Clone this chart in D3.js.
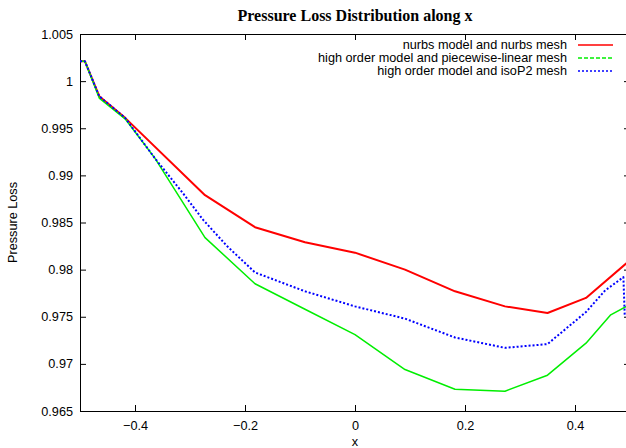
<!DOCTYPE html>
<html>
<head>
<meta charset="utf-8">
<script src="https://cdn.jsdelivr.net/npm/d3@7"></script>
<style>
  html, body { margin: 0; padding: 0; background: #fff; }
  svg { display: block; }
</style>
</head>
<body>
<script>
// 数据
const xTicks = [-0.4, -0.2, 0, 0.2, 0.4];
const yTicks = [0.965, 0.97, 0.975, 0.98, 0.985, 0.99, 0.995, 1, 1.005];

const seriesNames = [
  "nurbs model and nurbs mesh",
  "high order model and piecewise-linear mesh",
  "high order model and isoP2 mesh"
];

const nurbsX = [-0.5, -0.491, -0.465, -0.418, -0.2727, -0.1818, -0.0909, 0, 0.0909, 0.1818, 0.2727, 0.35, 0.42, 0.5];
const nurbsY = [1.0021, 1.0021, 0.9984, 0.9961, 0.9879, 0.9845, 0.9829, 0.9818, 0.9800, 0.9777, 0.9761, 0.9754, 0.9770, 0.9810];

const linearX = [-0.5, -0.491, -0.465, -0.418, -0.3636, -0.2727, -0.1818, -0.0909, 0, 0.0909, 0.1818, 0.2727, 0.35, 0.42, 0.465, 0.5];
const linearY = [1.0021, 1.0021, 0.9982, 0.9960, 0.9918, 0.9834, 0.9785, 0.9758, 0.9731, 0.9694, 0.9673, 0.9671, 0.9688, 0.9722, 0.9752, 0.9763];

const isoX = [-0.5, -0.491, -0.465, -0.418, -0.3636, -0.3127, -0.2764, -0.2327, -0.1818, -0.0909, 0, 0.0909, 0.1818, 0.2727, 0.35, 0.42, 0.455, 0.488, 0.4905];
const isoY = [1.0021, 1.0021, 0.9984, 0.9961, 0.9918, 0.9881, 0.9853, 0.9825, 0.9797, 0.9777, 0.9761, 0.9748, 0.9728, 0.9717, 0.9721, 0.9755, 0.9778, 0.9792, 0.9750];

const width = 626;
const height = 448;
const margin = { top: 34, right: -4, bottom: 37, left: 80 }; // 右边框在画布外（原图被裁掉）

const x = d3.scaleLinear().domain([-0.5, 0.5]).range([margin.left, width - margin.right]);
const y = d3.scaleLinear().domain([0.965, 1.005]).range([height - margin.bottom, margin.top]);

const svg = d3.create("svg")
  .attr("width", width)
  .attr("height", height)
  .attr("viewBox", [0, 0, width, height]);

const tickFont = "'Liberation Sans', Arial, sans-serif";
const fontSize = 12.7;

// 标题
svg.append("text")
  .attr("x", 355)
  .attr("y", 21)
  .attr("text-anchor", "middle")
  .attr("font-family", "'Liberation Serif', 'Times New Roman', serif")
  .attr("font-weight", "bold")
  .attr("font-size", 16)
  .text("Pressure Loss Distribution along x");

// 坐标轴，刻度朝内（gnuplot 风格）
function styleAxis(g) {
  g.attr("font-family", tickFont).attr("font-size", fontSize);
  g.selectAll("text").attr("fill", "#000");
  g.selectAll("line, path").attr("stroke", "#000");
}

svg.append("g")
  .attr("transform", `translate(0,${height - margin.bottom})`)
  .call(d3.axisBottom(x).tickValues(xTicks).tickFormat(d3.format("")).tickSize(-6).tickSizeOuter(0).tickPadding(10))
  .call(styleAxis);

svg.append("g")
  .attr("transform", `translate(0,${margin.top})`)
  .call(d3.axisTop(x).tickValues(xTicks).tickFormat("").tickSize(-6).tickSizeOuter(0))
  .call(styleAxis);

svg.append("g")
  .attr("transform", `translate(${margin.left},0)`)
  .call(d3.axisLeft(y).tickValues(yTicks).tickFormat(d => d3.format("")(+d.toFixed(3))).tickSize(-6).tickSizeOuter(0).tickPadding(7))
  .call(styleAxis);

svg.append("g")
  .attr("transform", `translate(${width - margin.right},0)`)
  .call(d3.axisRight(y).tickValues(yTicks).tickFormat("").tickSize(-6).tickSizeOuter(0))
  .call(styleAxis);

// 轴标题
svg.append("text")
  .attr("x", 355)
  .attr("y", 446)
  .attr("text-anchor", "middle")
  .attr("font-family", tickFont)
  .attr("font-size", fontSize)
  .text("x");

svg.append("text")
  .attr("transform", `translate(17,${(margin.top + height - margin.bottom) / 2}) rotate(-90)`)
  .attr("text-anchor", "middle")
  .attr("font-family", tickFont)
  .attr("font-size", fontSize)
  .text("Pressure Loss");

// 三条曲线
const series = [
  { name: seriesNames[0], xs: nurbsX, ys: nurbsY, color: "#ff0000", width: 2, dash: null, legendDash: null },
  { name: seriesNames[1], xs: linearX, ys: linearY, color: "#00ee00", width: 1.5, dash: null, legendDash: "4,2" },
  { name: seriesNames[2], xs: isoX, ys: isoY, color: "#0000ff", width: 2, dash: "2,2", legendDash: "2,2" }
];

const line = d3.line().x(d => x(d[0])).y(d => y(d[1]));

svg.append("clipPath").attr("id", "plot-clip")
  .append("rect")
  .attr("x", margin.left).attr("y", margin.top)
  .attr("width", width - margin.right - margin.left)
  .attr("height", height - margin.bottom - margin.top);

const gLines = svg.append("g").attr("clip-path", "url(#plot-clip)").attr("fill", "none");

series.forEach(s => {
  gLines.append("path")
    .datum(s.xs.map((v, i) => [v, s.ys[i]]))
    .attr("stroke", s.color)
    .attr("stroke-width", s.width)
    .attr("stroke-dasharray", s.dash)
    .attr("stroke-linejoin", "round")
    .attr("d", line);
});

// 图例（右上角，文字右对齐）
const legend = svg.append("g");
series.forEach((s, i) => {
  const ly = 45 + i * 13;
  legend.append("text")
    .attr("x", 567)
    .attr("y", ly)
    .attr("dy", "0.35em")
    .attr("text-anchor", "end")
    .attr("font-family", tickFont)
    .attr("font-size", fontSize)
    .text(s.name);
  legend.append("line")
    .attr("x1", 578).attr("x2", 613)
    .attr("y1", ly).attr("y2", ly)
    .attr("stroke", s.color)
    .attr("stroke-width", 1.5)
    .attr("stroke-dasharray", s.legendDash);
});

d3.select("body").append(() => svg.node());
</script>
</body>
</html>
